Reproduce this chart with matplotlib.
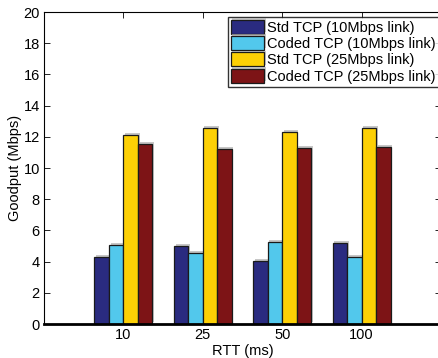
import matplotlib.pyplot as plt
import matplotlib.patheffects as pe
import numpy as np

plt.rcParams['font.family'] = ['Liberation Sans', 'DejaVu Sans']

rtt_labels = ['10', '25', '50', '100']
std_10 = [4.31, 5.00, 4.04, 5.21]
coded_10 = [5.06, 4.55, 5.28, 4.31]
std_25 = [12.13, 12.56, 12.33, 12.58]
coded_25 = [11.54, 11.22, 11.30, 11.35]

series = [
    ('Std TCP (10Mbps link)', std_10, '#2a2b80'),
    ('Coded TCP (10Mbps link)', coded_10, '#52c8ec'),
    ('Std TCP (25Mbps link)', std_25, '#fdd005'),
    ('Coded TCP (25Mbps link)', coded_25, '#7d1416'),
]

fs = 10.5
fig = plt.figure(figsize=(4.38, 3.58), dpi=100)
ax = fig.add_axes([44 / 438, 1 - 324 / 358, 397 / 438, 312 / 358])

x = np.arange(1, len(rtt_labels) + 1)
width = 0.182
shadow = [pe.SimplePatchShadow(offset=(1.2, 1.2), shadow_rgbFace='#b0b0b0', alpha=0.7), pe.Normal()]
for i, (name, vals, color) in enumerate(series):
    bars = ax.bar(x + (i - 1.5) * width, vals, width, color=color,
                  edgecolor='#1a1a1a', linewidth=0.9, label=name, zorder=2)
    for b in bars:
        b.set_path_effects(shadow)

ax.set_xlim(0, 5)
ax.set_ylim(0, 20)
ax.set_xticks(x)
ax.set_xticklabels(rtt_labels)
ax.set_yticks(range(0, 21, 2))
ax.tick_params(direction='in', top=True, right=True, length=4, width=0.6,
               labelsize=fs, pad=3)
for s in ['left', 'top', 'right']:
    ax.spines[s].set_linewidth(0.8)
ax.spines['bottom'].set_linewidth(2.0)

ax.set_xlabel('RTT (ms)', fontsize=fs, labelpad=1)
ax.set_ylabel('Goodput (Mbps)', fontsize=fs, labelpad=1)

leg = ax.legend(loc='upper right', bbox_to_anchor=(1.0, 0.992),
                fontsize=fs, frameon=True, fancybox=False, borderpad=0.2,
                handlelength=2.3, handleheight=1.1, handletextpad=0.2,
                labelspacing=0.1, borderaxespad=0.15)
leg.get_frame().set_edgecolor('black')
leg.get_frame().set_linewidth(1.0)

fig.savefig('out.png', dpi=100)
